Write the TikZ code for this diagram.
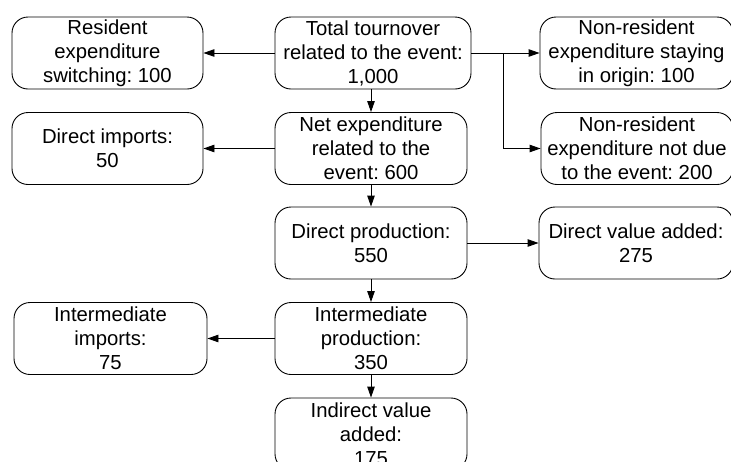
\documentclass[tikz,border=0pt]{standalone}
\usepackage{fontspec}
\setmainfont{Liberation Sans}
\frenchspacing
\usetikzlibrary{arrows.meta,calc}
\begin{document}
\begin{tikzpicture}[x=1pt,y=-1pt,
  flowbox/.style={draw,line width=0.9pt,rounded corners=16pt,align=center,
    minimum height=72pt,inner sep=0pt,
    font=\fontsize{20.3}{24}\selectfont},
  flow/.style={draw,line width=0.9pt,-{Triangle[length=11pt,width=7.5pt]}}]
\useasboundingbox (0,0) rectangle (731,461);
\begin{scope}
\clip (0,0) rectangle (731,461);
% left column
\node[flowbox,minimum width=191pt] (res) at (107.5,53) {Resident\\expenditure\\switching: 100};
\node[flowbox,minimum width=191pt] (dimp) at (107.5,148.5) {Direct imports:\\50};
\node[flowbox,minimum width=193pt] (iimp) at (110.5,338.5) {Intermediate\\imports:\\75};
% centre column
\node[flowbox,minimum width=196pt] (tot) at (373,53) {Total tournover\\related to the event:\\1,000};
\node[flowbox,minimum width=192pt] (net) at (371,148.5) {Net expenditure\\related to the\\event: 600};
\node[flowbox,minimum width=192pt] (dprod) at (371,243) {Direct production:\\550};
\node[flowbox,minimum width=192pt] (iprod) at (371,338.5) {Intermediate\\production:\\350};
\node[flowbox,minimum width=192pt] (iva) at (371,434) {Indirect value\\added:\\175};
% right column
\node[flowbox,minimum width=193pt] (stay) at (636.5,53) {Non-resident\\expenditure staying\\in origin: 100};
\node[flowbox,minimum width=192pt] (notdue) at (637,148.5) {Non-resident\\expenditure not due\\to the event: 200};
\node[flowbox,minimum width=194pt] (dva) at (636,243) {Direct value added:\\275};
% connectors
\coordinate (split) at (503,53);
\draw[flow] (tot.west) -- (res.east);
\draw[flow] (tot.east) -- (stay.west);
\draw[flow] (split) -- (split |- notdue.west) -- (notdue.west);
\draw[flow] (tot.south -| net.north) -- (net.north);
\draw[flow] (net.west) -- (dimp.east);
\draw[flow] (net.south) -- (dprod.north);
\draw[flow] (dprod.east) -- (dva.west);
\draw[flow] (dprod.south) -- (iprod.north);
\draw[flow] (iprod.west) -- (iimp.east);
\draw[flow] (iprod.south) -- (iva.north);
\end{scope}
\end{tikzpicture}
\end{document}
